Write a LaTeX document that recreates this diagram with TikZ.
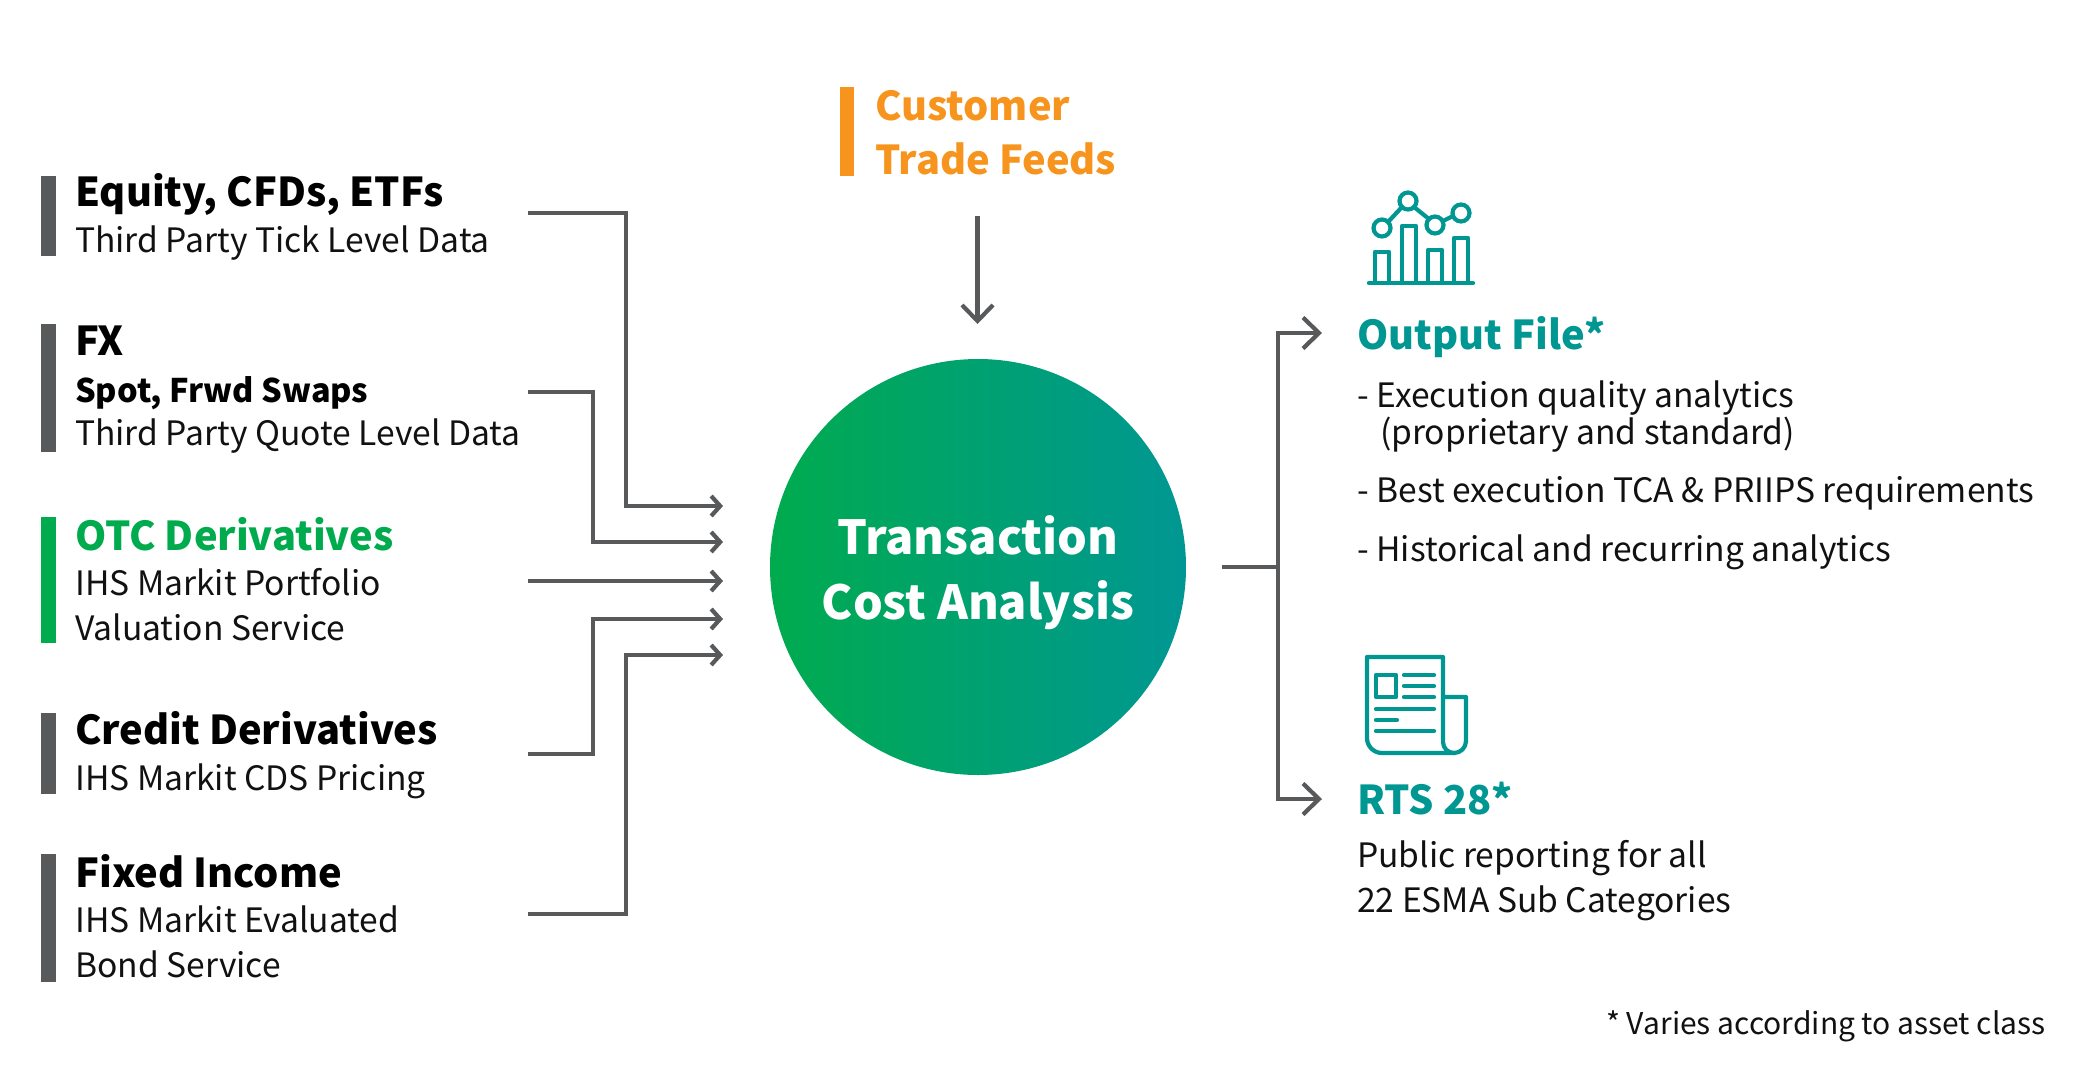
\documentclass[tikz,border=0pt]{standalone}
\usepackage{fontspec}
\setmainfont{Noto Sans CJK JP}
\usetikzlibrary{arrows.meta}
\definecolor{bargray}{HTML}{58595B}
\definecolor{txtgray}{HTML}{111111}
\definecolor{otcgreen}{HTML}{00AB4E}
\definecolor{feedorange}{HTML}{F7941D}
\definecolor{tealc}{HTML}{009793}
\tikzset{
  x=1pt,y=-1pt,
  lab/.style={anchor=base west,inner sep=0pt,text=txtgray},
  head/.style={lab,font=\fontsize{39.8}{40}\selectfont\bfseries,text=black},
  sub/.style={lab,font=\fontsize{33.6}{34}\selectfont},
  subb/.style={lab,font=\fontsize{32.5}{33}\selectfont\bfseries,text=black},
  bar/.style={fill=bargray,draw=none},
  feed/.style={draw=bargray,line width=4.2pt,-{Straight Barb[length=9pt,width=20pt,line width=4.2pt]}},
  bigfeed/.style={draw=bargray,line width=4.2pt,-{Straight Barb[length=16pt,width=31pt,line width=4.2pt]}},
  icon/.style={draw=tealc,line width=4.2pt,line cap=round,line join=round},
}
\begin{document}
\begin{tikzpicture}
\useasboundingbox (0,0) rectangle (2089,1074);
% side bars
\fill[bar] (41,176) rectangle (56,256);
\fill[bar] (41,324) rectangle (56,452);
\fill[otcgreen] (41,517) rectangle (56,643);
\fill[bar] (41,713) rectangle (56,794);
\fill[bar] (41,854) rectangle (56,982);
\fill[feedorange] (840,87) rectangle (854,176);
% left labels
\node[head] (eq) at (75,206.5) {Equity, CFDs, ETFs};
\node[sub] (eqs) at (75,252) {Third Party Tick Level Data};
\node[head] (fx) at (75,355.6) {FX};
\node[subb] (fxa) at (75,402) {Spot, Frwd Swaps};
\node[sub] (fxs) at (75,445) {Third Party Quote Level Data};
\node[head,text=otcgreen] (otc) at (75,550) {OTC Derivatives};
\node[sub] (otca) at (75,595.4) {IHS Markit Portfolio};
\node[sub] (otcb) at (75,640.7) {Valuation Service};
\node[head] (cr) at (75,744.6) {Credit Derivatives};
\node[sub] (crs) at (75,790) {IHS Markit CDS Pricing};
\node[head] (fi) at (75,887) {Fixed Income};
\node[sub] (fia) at (75,932.4) {IHS Markit Evaluated};
\node[sub] (fib) at (75,977.7) {Bond Service};
\node[head,text=feedorange] (cu) at (875,120) {Customer};
\node[head,text=feedorange] (tf) at (875,174.5) {Trade Feeds};
% circle
\node[circle,minimum size=416pt,inner sep=0pt,left color=otcgreen,right color=tealc,draw=none] (tca) at (978,567) {};
\node[anchor=base,inner sep=0pt,text=white,font=\fontsize{46.9}{47}\selectfont\bfseries] (tca1) at (978,554) {Transaction};
\node[anchor=base,inner sep=0pt,text=white,font=\fontsize{46.9}{47}\selectfont\bfseries] (tca2) at (978,619) {Cost Analysis};
% right labels
\node[head,text=tealc] (out) at (1357,349) {Output File*};
\node[sub] (o1) at (1357,407) {- Execution quality analytics};
\node[sub] (o2) at (1357,444.6) {\hspace{0.68em}(proprietary and standard)};
\node[sub] (o3) at (1357,502) {- Best execution TCA \& PRIIPS requirements};
\node[sub] (o4) at (1357,561) {- Historical and recurring analytics};
\node[head,text=tealc] (rts) at (1357,814) {RTS 28*};
\node[sub] (r1) at (1357,867) {Public reporting for all};
\node[sub] (r2) at (1357,912) {22 ESMA Sub Categories};
\node[lab,font=\fontsize{30}{30}\selectfont] (note) at (1606,1034) {* Varies according to asset class};
% connector ends
\coordinate (s1) at (528,213);
\coordinate (s2) at (528,392);
\coordinate (s3) at (528,581);
\coordinate (s4) at (528,754);
\coordinate (s5) at (528,914);
\coordinate (t1) at (723,506);
\coordinate (t2) at (723,542);
\coordinate (t3) at (723,581);
\coordinate (t4) at (723,619);
\coordinate (t5) at (723,655);
\coordinate (rs) at (1222,567);
\coordinate (rj) at (1278,567);
\coordinate (rt1) at (1322,333);
\coordinate (rt2) at (1322,799);
\coordinate (topS) at (977.5,216);
\coordinate (topE) at (977.5,324);
% connectors
\draw[feed] (s1) -| (626,506) -- (t1);
\draw[feed] (s2) -| (593,542) -- (t2);
\draw[feed] (s3) -- (t3);
\draw[feed] (s4) -| (593,619) -- (t4);
\draw[feed] (s5) -| (626,655) -- (t5);
\draw[bigfeed] (topS) -- (topE);
\draw[draw=bargray,line width=4.2pt] (rs) -- (rj);
\draw[bigfeed] (rj) |- (rt1);
\draw[bigfeed] (rj) |- (rt2);
% chart icon
\draw[icon] (1369,283) -- (1473,283);
\draw[icon] (1375,283) |- (1389,252) -- (1389,283);
\draw[icon] (1402,283) |- (1416,226) -- (1416,283);
\draw[icon] (1428,283) |- (1442,250) -- (1442,283);
\draw[icon] (1454,283) |- (1468,238) -- (1468,283);
\draw[icon] (1382,228) circle[radius=8.5];
\draw[icon] (1408,201) circle[radius=8.5];
\draw[icon] (1435,225) circle[radius=8.5];
\draw[icon] (1461,213) circle[radius=8.5];
\draw[icon] (1388,222) -- (1402,207);
\draw[icon] (1414,207) -- (1429,219);
\draw[icon] (1443,221) -- (1453,216);
% newspaper icon
\draw[icon] (1443,740) -- (1443,657) -- (1367,657) -- (1367,738) arc[start angle=180,end angle=90,radius=15] -- (1454,753);
\draw[icon] (1443,697) -- (1466,697) -- (1466,741) arc[start angle=0,end angle=90,radius=12] arc[start angle=90,end angle=180,radius=11] ;
\draw[icon] (1376,675) rectangle (1396,697);
\draw[icon] (1404,675) -- (1434,675);
\draw[icon] (1404,686) -- (1434,686);
\draw[icon] (1404,697) -- (1434,697);
\draw[icon] (1376,709) -- (1434,709);
\draw[icon] (1376,720) -- (1397,720);
\draw[icon] (1376,731) -- (1434,731);
\end{tikzpicture}
\end{document}
